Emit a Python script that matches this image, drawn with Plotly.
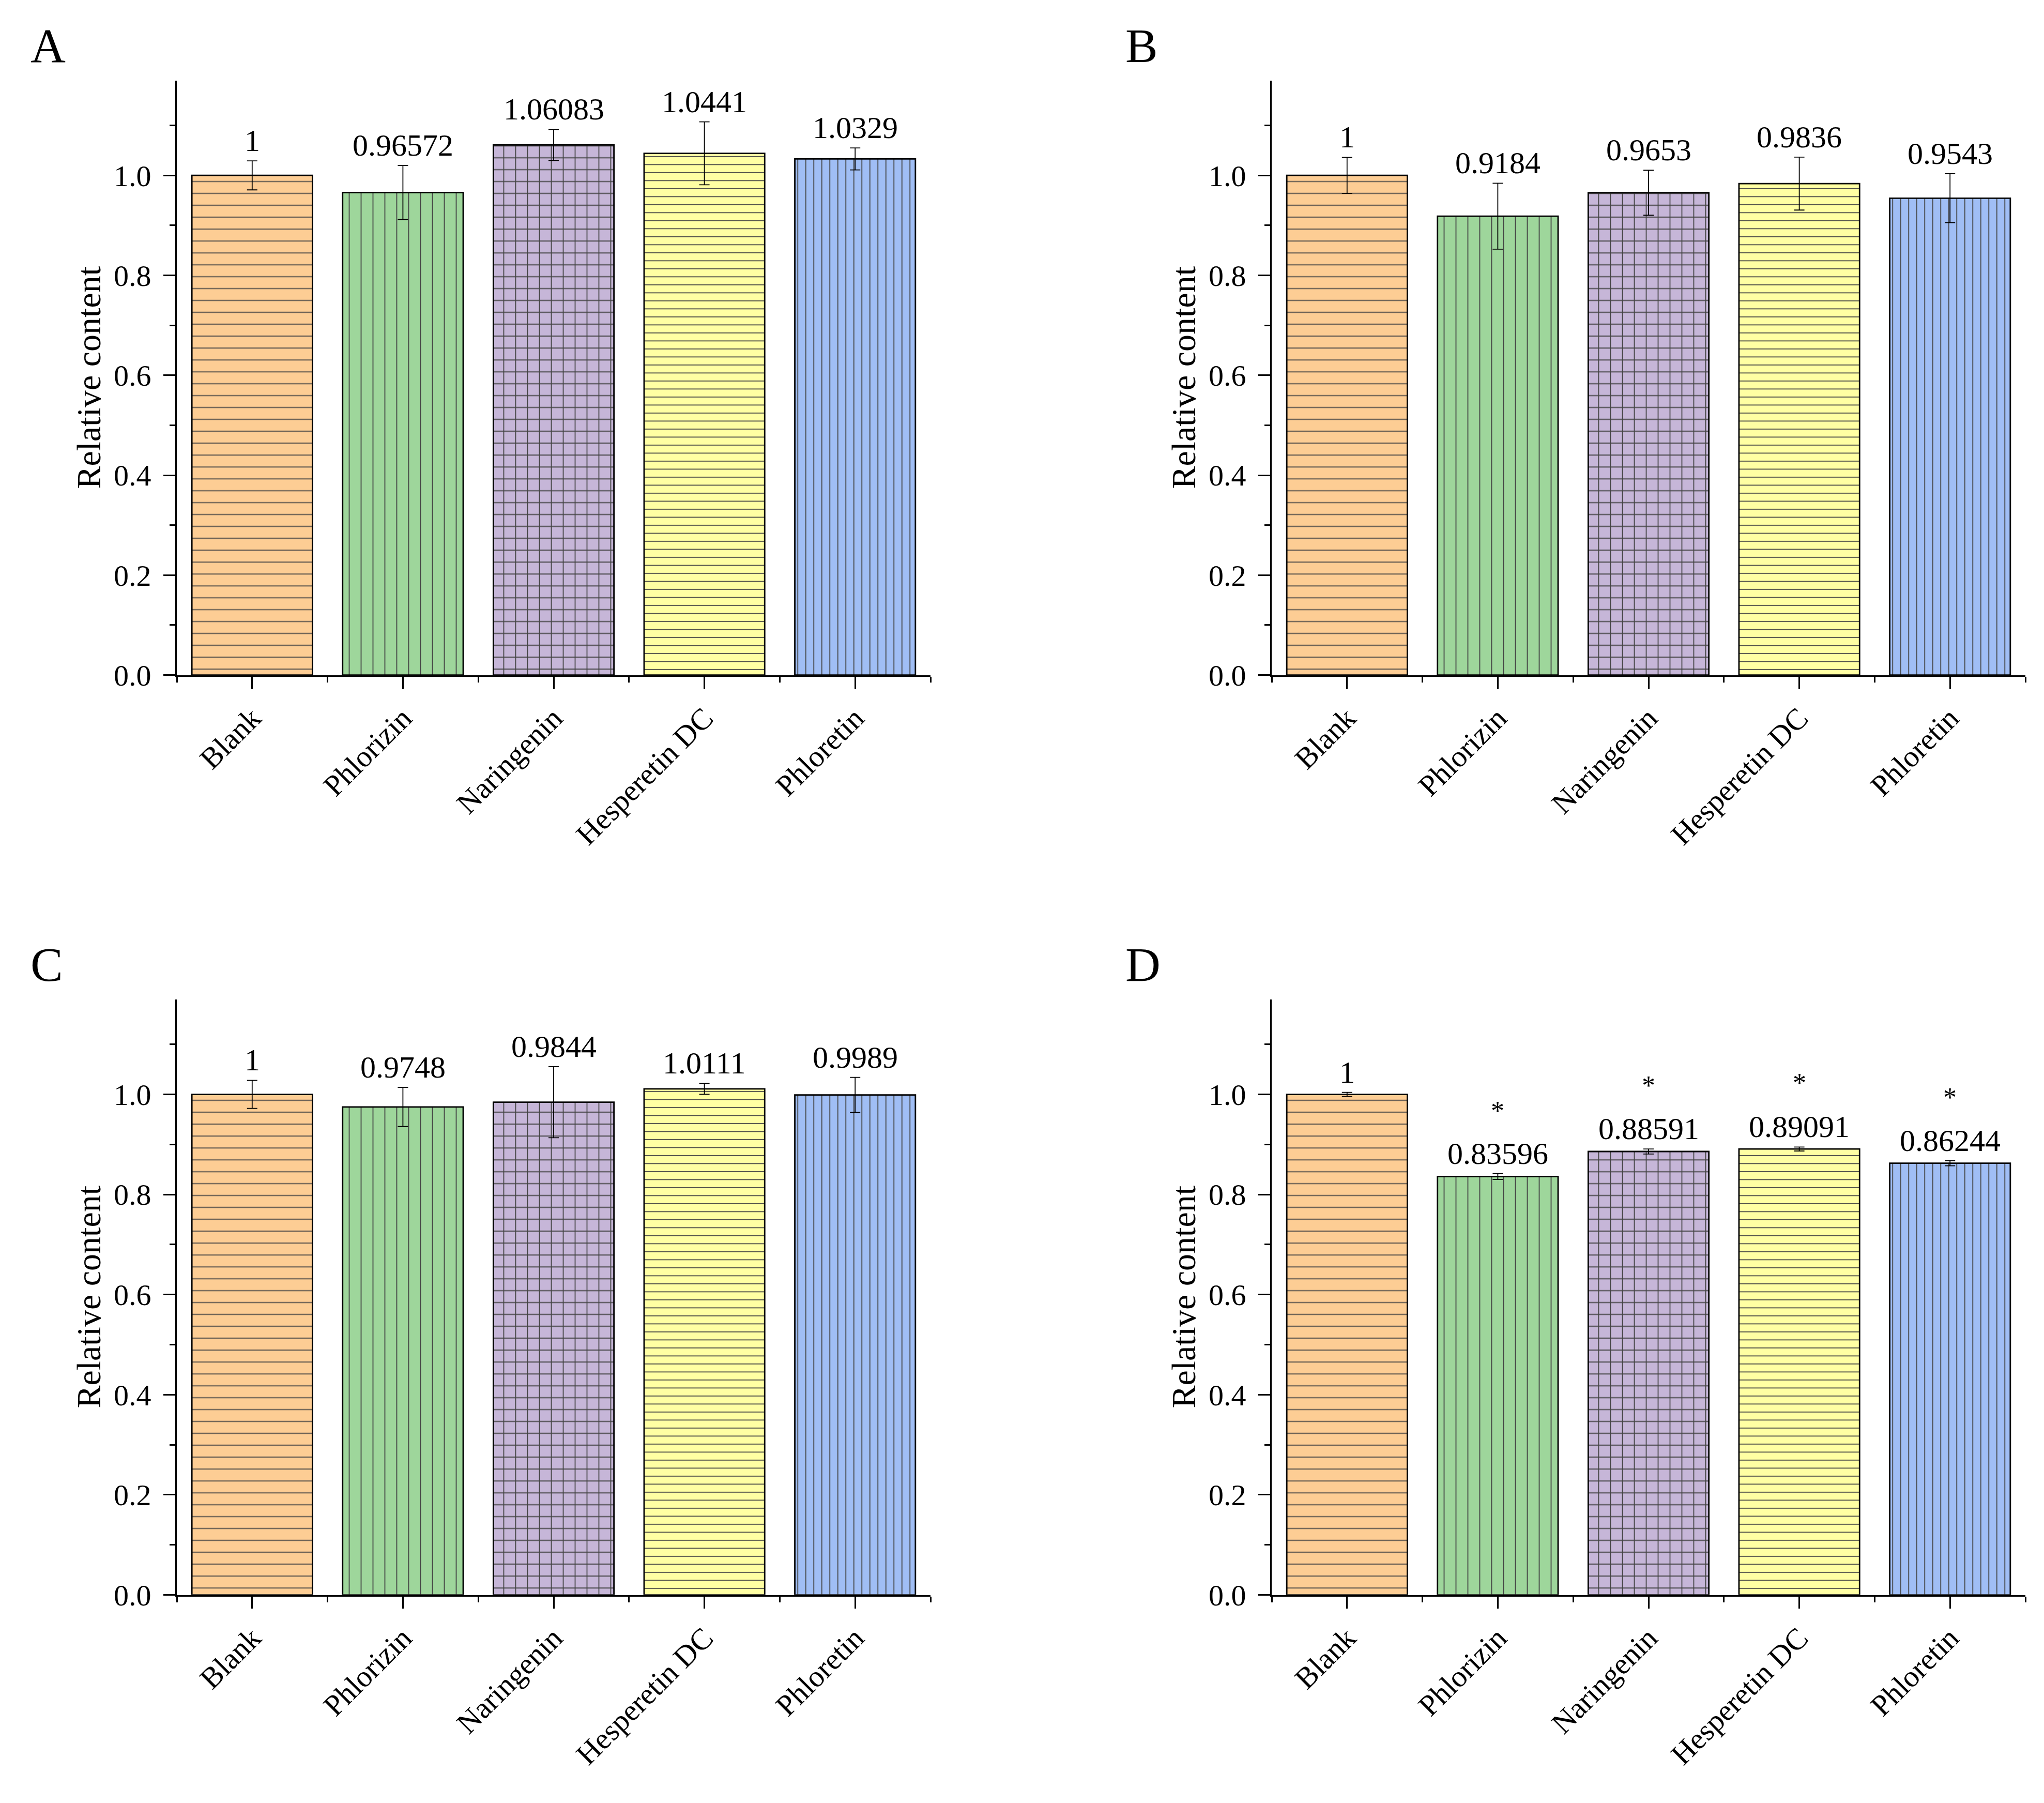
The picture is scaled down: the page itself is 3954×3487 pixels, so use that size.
import plotly.graph_objects as go

categories = ["Blank", "Phlorizin", "Naringenin", "Hesperetin DC", "Phloretin"]
panel_letters = ["A", "B", "C", "D"]

values_A = [1, 0.96572, 1.06083, 1.0441, 1.0329]
errors_A = [0.029, 0.054, 0.031, 0.063, 0.022]
values_B = [1, 0.9184, 0.9653, 0.9836, 0.9543]
errors_B = [0.036, 0.066, 0.045, 0.053, 0.049]
values_C = [1, 0.9748, 0.9844, 1.0111, 0.9989]
errors_C = [0.028, 0.039, 0.071, 0.011, 0.035]
values_D = [1, 0.83596, 0.88591, 0.89091, 0.86244]
errors_D = [0.004, 0.006, 0.005, 0.004, 0.005]
signif_D = ["", "*", "*", "*", "*"]

y_title = "Relative content"
y_ticks = [0.0, 0.2, 0.4, 0.6, 0.8, 1.0]

fill_colors = ["#FDCD94", "#9ED69B", "#C6B6D8", "#FFFFA3", "#A0BEF5"]
pattern_shapes = ["-", "|", "+", "-", "|"]
pattern_sizes = [23, 23, 23, 15.5, 15.5]
pattern_solidity = [0.08, 0.08, 0.15, 0.115, 0.115]

panels = [
    (values_A, errors_A, None),
    (values_B, errors_B, None),
    (values_C, errors_C, None),
    (values_D, errors_D, signif_D),
]

W, H = 3954, 3487
FONT = "Liberation Serif"
# plot-area pixel boxes (left, right, top, bottom)
boxes = [
    (334, 1792, 149, 1310),
    (2452, 3910, 149, 1310),
    (334, 1792, 1943, 3106),
    (2452, 3910, 1943, 3106),
]

fig = go.Figure()
annotations = []
xpos = list(range(len(categories)))

for i, (vals, errs, sig) in enumerate(panels):
    n = i + 1
    xa = "x" if n == 1 else f"x{n}"
    ya = "y" if n == 1 else f"y{n}"
    fig.add_trace(go.Bar(
        x=xpos, y=vals, xaxis=xa, yaxis=ya, width=0.8,
        marker=dict(
            color=fill_colors,
            line=dict(color="black", width=2.8),
            pattern=dict(shape=pattern_shapes, size=pattern_sizes,
                         solidity=pattern_solidity, fgcolor="#111111",
                         fgopacity=1, bgcolor=fill_colors, fillmode="overlay"),
        ),
        error_y=dict(type="data", array=errs, visible=True,
                     color="black", thickness=1.8, width=10),
        showlegend=False, hoverinfo="skip",
    ))
    l, r, t, b = boxes[i]
    xd = [l / W, r / W]
    yd = [1 - b / H, 1 - t / H]
    axx = dict(domain=xd, anchor=ya, range=[-0.5, 4.5], tickmode="array",
               tickvals=xpos, ticktext=categories, tickangle=-45,
               ticks="outside", ticklen=23, tickwidth=3, tickcolor="black",
               showline=True, linecolor="black", linewidth=3,
               showgrid=False, zeroline=False,
               tickfont=dict(family=FONT, size=58, color="black"),
               minor=dict(ticks="outside", ticklen=11, tickwidth=3,
                          tickcolor="black", tickmode="linear",
                          tick0=-0.5, dtick=1, showgrid=False))
    axy = dict(domain=yd, anchor=xa, range=[0, 1.19], tickmode="array",
               tickvals=y_ticks, ticktext=[f"{v:.1f}" for v in y_ticks],
               ticks="outside", ticklen=23, tickwidth=3, tickcolor="black",
               showline=True, linecolor="black", linewidth=3,
               showgrid=False, zeroline=False, ticklabelstandoff=12,
               tickfont=dict(family=FONT, size=58, color="black"),
               minor=dict(ticks="outside", ticklen=11, tickwidth=3,
                          tickcolor="black", tickmode="linear",
                          tick0=0, dtick=0.1, showgrid=False))
    fig.update_layout(**{("xaxis" if n == 1 else f"xaxis{n}"): axx,
                         ("yaxis" if n == 1 else f"yaxis{n}"): axy})

    # value labels above error bars
    for j, (v, e) in enumerate(zip(vals, errs)):
        annotations.append(dict(
            x=xpos[j], y=v + e, xref=xa, yref=ya, text=f"{v:g}",
            showarrow=False, xanchor="center", yanchor="bottom", yshift=4,
            font=dict(family=FONT, size=60, color="black")))
        if sig and sig[j]:
            annotations.append(dict(
                x=xpos[j], y=v + 0.15, xref=xa, yref=ya, text=sig[j],
                showarrow=False, xanchor="center", yanchor="middle",
                yshift=-18, font=dict(family=FONT, size=52, color="black")))

    # panel letter
    annotations.append(dict(
        x=(l - 285) / W, y=1 - (t - 68) / H, xref="paper", yref="paper",
        text=panel_letters[i], showarrow=False, xanchor="left",
        yanchor="middle", font=dict(family=FONT, size=94, color="black")))
    # y-axis title
    annotations.append(dict(
        x=(l - 170) / W, y=(yd[0] + yd[1]) / 2, xref="paper", yref="paper",
        text=y_title, showarrow=False, textangle=-90, xanchor="center",
        yanchor="middle", font=dict(family=FONT, size=66, color="black")))

fig.update_layout(
    width=W, height=H, margin=dict(l=0, r=0, t=0, b=0),
    paper_bgcolor="white", plot_bgcolor="white",
    annotations=annotations, bargap=0.2,
)

fig.write_html("out.html")
